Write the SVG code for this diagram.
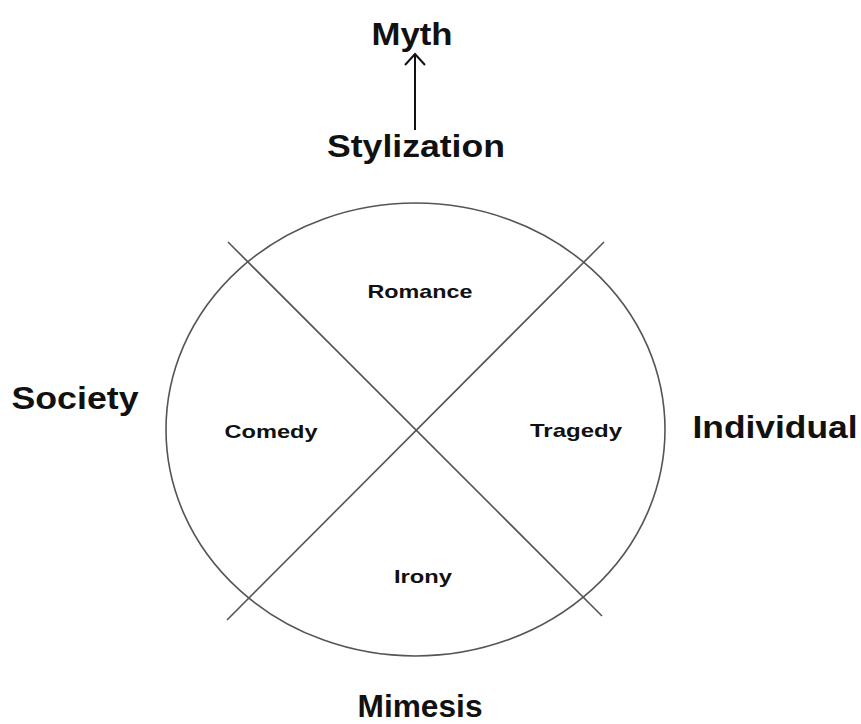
<svg xmlns="http://www.w3.org/2000/svg" width="861" height="724" viewBox="0 0 861 724">
<style>
.big{font-family:"Liberation Sans",Arial,sans-serif;font-weight:bold;font-size:31px;fill:#111}
.small{font-family:"Liberation Sans",Arial,sans-serif;font-weight:bold;font-size:19px;fill:#111}
.ln{stroke:#555;stroke-width:1.6;fill:none}
</style>
<rect width="861" height="724" fill="#fff"/>
<g id="connectors">
<ellipse class="ln" cx="415.5" cy="429.5" rx="249.5" ry="226.5" stroke="#333"/>
<line class="ln" x1="228" y1="242" x2="602" y2="616"/>
<line class="ln" x1="604" y1="242" x2="227" y2="620"/>
<g id="arrow" stroke="#111" stroke-width="2" fill="none">
<line x1="415" y1="130" x2="415" y2="55"/>
<polyline points="405,65 415,54 425,65"/>
</g>
</g>
<g id="myth"><text class="big" x="412" y="45" text-anchor="middle" textLength="81" lengthAdjust="spacingAndGlyphs" font-size="28">Myth</text></g>
<g id="stylization"><text class="big" x="416" y="157" text-anchor="middle" textLength="178" lengthAdjust="spacingAndGlyphs" font-size="34">Stylization</text></g>
<g id="society"><text class="big" x="75" y="409" text-anchor="middle" textLength="127" lengthAdjust="spacingAndGlyphs">Society</text></g>
<g id="individual"><text class="big" x="775" y="438" text-anchor="middle" textLength="165" lengthAdjust="spacingAndGlyphs">Individual</text></g>
<g id="mimesis"><text class="big" x="420" y="717" text-anchor="middle" textLength="125" lengthAdjust="spacingAndGlyphs" font-size="28">Mimesis</text></g>
<g id="romance"><text class="small" x="420" y="298" text-anchor="middle" textLength="105" lengthAdjust="spacingAndGlyphs">Romance</text></g>
<g id="comedy"><text class="small" x="271" y="438" text-anchor="middle" textLength="93" lengthAdjust="spacingAndGlyphs">Comedy</text></g>
<g id="tragedy"><text class="small" x="576" y="437" text-anchor="middle" textLength="92" lengthAdjust="spacingAndGlyphs">Tragedy</text></g>
<g id="irony"><text class="small" x="423" y="583" text-anchor="middle" textLength="58" lengthAdjust="spacingAndGlyphs">Irony</text></g>
</svg>
